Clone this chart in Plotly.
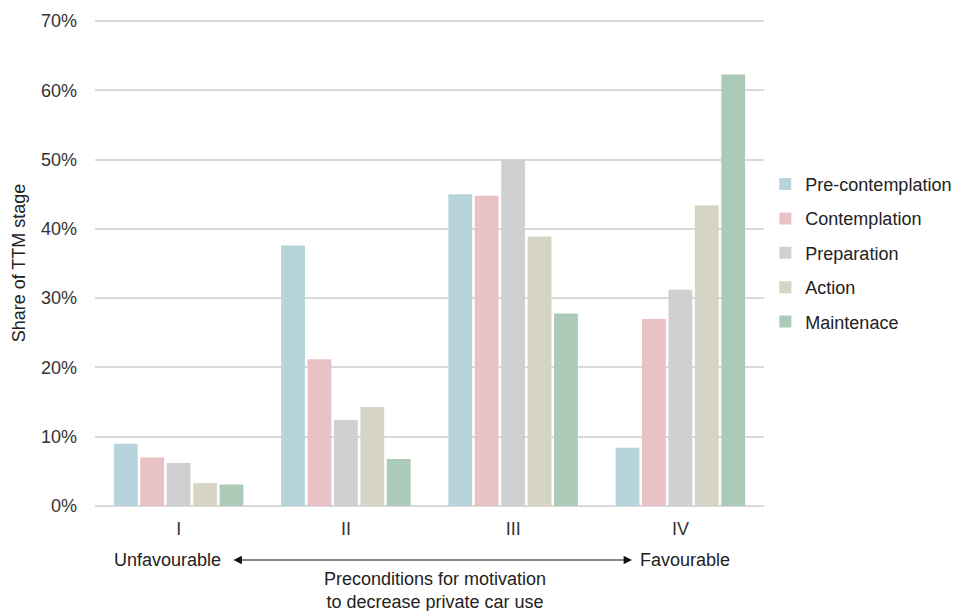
import plotly.graph_objects as go

categories = ["I", "II", "III", "IV"]
series_names = ["Pre-contemplation", "Contemplation", "Preparation", "Action", "Maintenace"]
pre_contemplation = [9.0, 37.6, 45.0, 8.4]
contemplation = [7.0, 21.2, 44.8, 27.0]
preparation = [6.2, 12.4, 50.0, 31.2]
action = [3.3, 14.3, 38.9, 43.4]
maintenance = [3.1, 6.8, 27.8, 62.3]
y_ticks = [0, 10, 20, 30, 40, 50, 60, 70]
y_tick_labels = ["0%", "10%", "20%", "30%", "40%", "50%", "60%", "70%"]

values = [pre_contemplation, contemplation, preparation, action, maintenance]
colors = ["#b7d3dc", "#e8c2c5", "#d0cfd1", "#d6d4c4", "#abcab7"]

FONT = "Liberation Sans, Arial, sans-serif"
FS = 18

fig = go.Figure()
for name, vals, col in zip(series_names, values, colors):
    fig.add_trace(go.Bar(x=categories, y=vals, name=name, marker_color=col,
                         marker_line_width=0, legendgroup=name))

# page has an 8px body margin; figure size compensates
W, H = 955, 603
L, R, T, B = 87, 199, 12, 105
pw, ph = W - L - R, H - T - B

def px_x(x):  # reference screen x -> paper
    return (x - 8 - L) / pw

def px_y(y):  # reference screen y -> paper
    return 1 - (y - 8 - T) / ph

fig.update_layout(
    width=W, height=H,
    margin=dict(l=L, r=R, t=T, b=B, autoexpand=False),
    paper_bgcolor="white", plot_bgcolor="white",
    barmode="group", bargap=0.21, bargroupgap=0.1,
    font=dict(family=FONT, size=FS, color="#222"),
    showlegend=True,
    legend=dict(x=1.002, y=0.700, xanchor="left", yanchor="top",
                font=dict(size=FS, color="#222"), itemwidth=30,
                tracegroupgap=8),
    xaxis=dict(showgrid=False, showline=False, ticks="", automargin=False,
               ticklabelstandoff=10,
               tickfont=dict(size=FS, color="#333")),
    yaxis=dict(range=[0, 70.15], tickmode="array", tickvals=y_ticks, ticktext=y_tick_labels,
               showgrid=True, gridcolor="#d9d9d9", gridwidth=1.5,
               zeroline=True, zerolinecolor="#d9d9d9", zerolinewidth=1.5,
               showline=False, ticks="", ticklabelstandoff=17, automargin=False,
               tickfont=dict(size=FS, color="#333"),
               title=dict(text="Share of TTM stage", font=dict(size=FS, color="#222"),
                          standoff=10)),
)

# bottom annotations
ya = px_y(560)
fig.add_annotation(xref="paper", yref="paper", x=px_x(223), y=ya,
                   text="Unfavourable", showarrow=False, xanchor="right", yanchor="middle",
                   font=dict(size=FS, color="#222"))
fig.add_annotation(xref="paper", yref="paper", x=px_x(638), y=ya,
                   text="Favourable", showarrow=False, xanchor="left", yanchor="middle",
                   font=dict(size=FS, color="#222"))
fig.add_annotation(xref="paper", yref="paper", x=px_x(632), y=ya,
                   ax=-400, ay=0, text="", showarrow=True, arrowside="end+start",
                   arrowhead=2, arrowsize=1.4, arrowwidth=1.2, arrowcolor="#111")
fig.add_annotation(xref="paper", yref="paper", x=px_x(435), y=px_y(590),
                   text="Preconditions for motivation<br>to decrease private car use",
                   showarrow=False, xanchor="center", yanchor="middle",
                   font=dict(size=FS, color="#222"))

fig.write_html("out.html")
